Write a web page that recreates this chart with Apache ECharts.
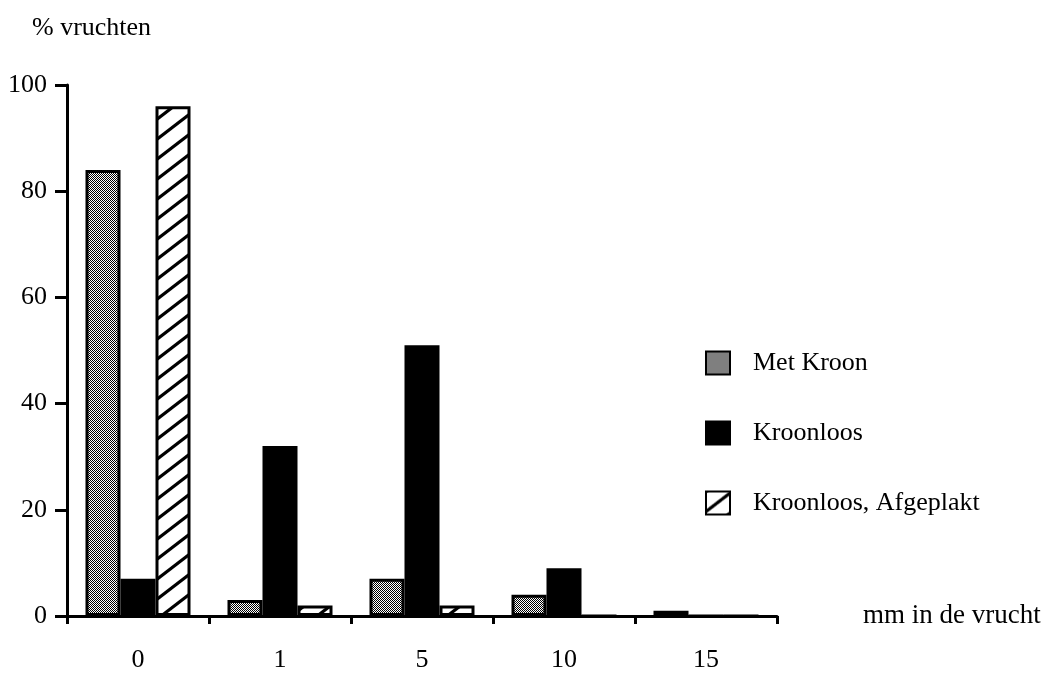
<!DOCTYPE html>
<html>
<head>
<meta charset="utf-8">
<script src="https://cdn.jsdelivr.net/npm/echarts@6/dist/echarts.min.js"></script>
<style>html,body{margin:0;padding:0;background:#fff}#c{width:1051px;height:673px}</style>
</head>
<body>
<div id="c"></div>
<script>
const categories = ['0', '1', '5', '10', '15'];
const metKroon = [84, 3, 7, 4, 1];
const kroonloos = [7, 32, 51, 9, 0];
const afgeplakt = [96, 2, 2, 0, 0];
const yTicks = [0, 20, 40, 60, 80, 100];
const seriesNames = ['Met Kroon', 'Kroonloos', 'Kroonloos, Afgeplakt'];

function dotPattern() {
  const c = document.createElement('canvas');
  c.width = 2; c.height = 2;
  const g = c.getContext('2d');
  g.fillStyle = '#fff'; g.fillRect(0, 0, 2, 2);
  g.fillStyle = '#000';
  g.fillRect(0, 0, 1, 1);
  g.fillRect(1, 1, 1, 1);
  return c;
}
function hatchPattern() {
  const w = 26, h = 20;
  const c = document.createElement('canvas');
  c.width = w; c.height = h;
  const g = c.getContext('2d');
  g.fillStyle = '#fff'; g.fillRect(0, 0, w, h);
  g.strokeStyle = '#000'; g.lineWidth = 3.2;
  for (const dy of [-h, 0, h]) {
    g.beginPath();
    g.moveTo(-w, 2 * h + dy);
    g.lineTo(2 * w, -h + dy);
    g.stroke();
  }
  return c;
}
const font = 'Liberation Serif, Times New Roman, serif';

const chart = echarts.init(document.getElementById('c'), null, {renderer: 'canvas'});
const fills = [
  {image: dotPattern(), repeat: 'repeat'},
  '#000',
  {image: hatchPattern(), repeat: 'repeat'}
];
const data = [metKroon, kroonloos, afgeplakt];
chart.setOption({
  animation: false,
  title: {
    text: '% vruchten', left: 27, top: 10,
    textStyle: {fontFamily: font, fontSize: 26, fontWeight: 'normal', color: '#000'}
  },
  legend: {
    orient: 'vertical', left: 705, top: 350, padding: 0,
    itemWidth: 24, itemHeight: 23, itemGap: 44, icon: 'rect',
    data: seriesNames,
    textStyle: {fontFamily: font, fontSize: 26, color: '#000', padding: [0, 0, 0, 18]}
  },
  grid: {left: 67, right: 274, top: 85, bottom: 53, containLabel: false},
  xAxis: {
    type: 'category', data: categories,
    name: 'mm in de vrucht', nameLocation: 'end', nameGap: 86,
    nameTextStyle: {fontFamily: font, fontSize: 27, color: '#000'},
    axisLine: {lineStyle: {color: '#000', width: 3}},
    axisTick: {show: true, length: 8, lineStyle: {color: '#000', width: 3}, alignWithLabel: false},
    axisLabel: {fontFamily: font, fontSize: 26, color: '#000', margin: 31}
  },
  yAxis: {
    type: 'value', min: 0, max: 100, interval: 20,
    axisLine: {show: true, lineStyle: {color: '#000', width: 3}},
    axisTick: {show: true, length: 12, lineStyle: {color: '#000', width: 3}},
    splitLine: {show: false},
    axisLabel: {fontFamily: font, fontSize: 26, color: '#000', margin: 20,
      formatter: v => yTicks.includes(v) ? String(v) : ''}
  },
  series: seriesNames.map((n, i) => ({
    name: n, type: 'bar', data: data[i], barWidth: 35, barGap: '0%',
    itemStyle: {color: fills[i], borderColor: '#000', borderWidth: 3}
  }))
});
</script>
</body>
</html>
